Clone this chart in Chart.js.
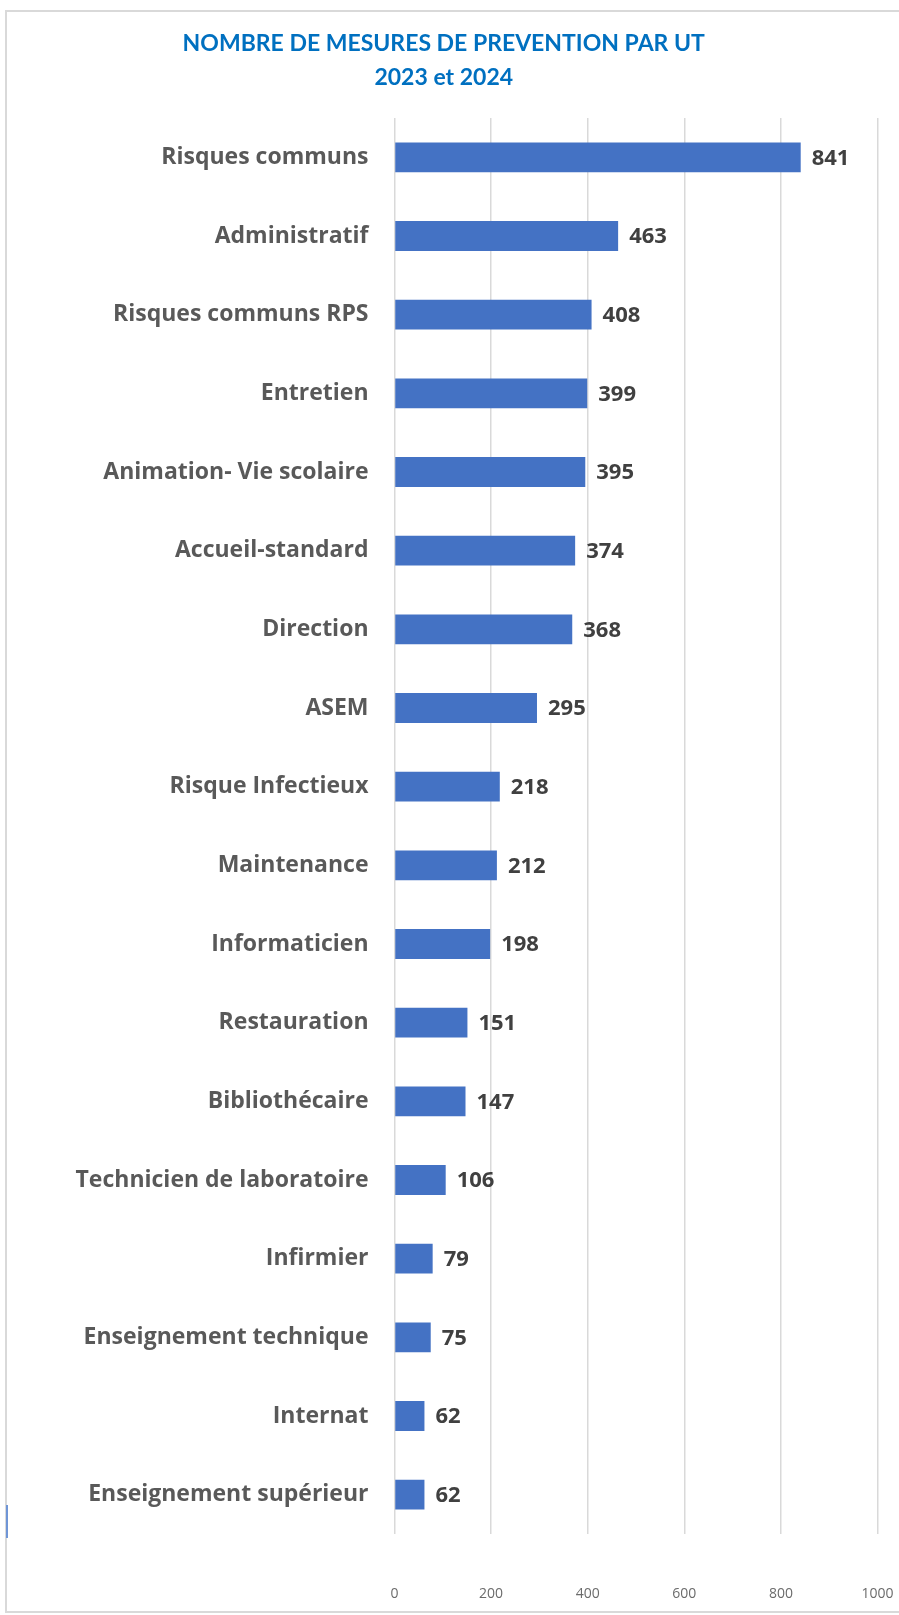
<!DOCTYPE html>
<html lang="fr">
<head>
  <meta charset="UTF-8" />
  <title>Mesures de prévention par UT</title>
  <script src="https://cdn.jsdelivr.net/npm/chart.js"></script>
  <style>
    html, body { margin: 0; background: #fff; overflow: hidden; }
    .cadre { position: absolute; left: 5px; top: 10px; width: 894px; height: 1603px; border: 2px solid #d9d9d9; border-right: none; box-sizing: border-box; }
    .marque { position: absolute; left: 6px; top: 1505px; width: 2px; height: 33px; background: #6f95d6; }
    #chartUT { position: absolute; left: 0; top: 0; }
  </style>
</head>
<body>
  <div class="cadre"></div>
  <div class="marque"></div>
  <canvas id="chartUT" width="899" height="1615"></canvas>

  <script>
    const unites = [
      'Risques communs', 'Administratif', 'Risques communs RPS', 'Entretien',
      'Animation- Vie scolaire', 'Accueil-standard', 'Direction', 'ASEM',
      'Risque Infectieux', 'Maintenance', 'Informaticien', 'Restauration',
      'Bibliothécaire', 'Technicien de laboratoire', 'Infirmier',
      'Enseignement technique', 'Internat', 'Enseignement supérieur'
    ];
    const mesures = [841, 463, 408, 399, 395, 374, 368, 295, 218, 212, 198, 151, 147, 106, 79, 75, 62, 62];
    const titre = ['NOMBRE DE MESURES DE PREVENTION PAR UT', '2023 et 2024'];

    // etiquettes de valeur au bout des barres
    const valeurs = {
      id: 'valeurs',
      afterDatasetsDraw(chart) {
        const ctx = chart.ctx;
        const meta = chart.getDatasetMeta(0);
        ctx.save();
        ctx.font = 'bold 22px "Open Sans"';
        ctx.fillStyle = '#404040';
        ctx.textAlign = 'left';
        ctx.textBaseline = 'middle';
        meta.data.forEach((bar, i) => {
          ctx.fillText(mesures[i], bar.x + 11, bar.y + 1);
        });
        ctx.restore();
      }
    };

    new Chart(document.getElementById('chartUT'), {
      type: 'bar',
      data: {
        labels: unites,
        datasets: [{
          data: mesures,
          backgroundColor: '#4472c4',
          barPercentage: 0.38,
          categoryPercentage: 1
        }]
      },
      options: {
        indexAxis: 'y',
        responsive: false,
        animation: false,
        layout: { padding: { top: 10, right: 21.5, bottom: 15, left: 10 } },
        plugins: {
          legend: { display: false },
          tooltip: { enabled: false },
          title: {
            display: true,
            text: titre,
            color: '#0070c0',
            font: { family: 'Lato', size: 23, weight: 'bold', lineHeight: 1.5 },
            padding: { top: 16, bottom: 23 }
          }
        },
        scales: {
          x: {
            min: 0,
            max: 1000,
            afterFit(scale) {
              scale.height = 66;
              scale.paddingLeft = 0;
              scale.paddingRight = 0;
            },
            ticks: {
              stepSize: 200,
              padding: 52,
              color: '#6b6b6b',
              font: { family: 'Open Sans', size: 14 },
              callback: v => String(v)
            },
            grid: { color: '#d9d9d9', lineWidth: 1.5, drawTicks: false },
            border: { display: false }
          },
          y: {
            afterFit(scale) {
              scale.width = 384.5;
              scale.paddingTop = 0;
              scale.paddingBottom = 0;
            },
            ticks: {
              padding: 26,
              color: '#595959',
              font: { family: 'Open Sans', size: 23, weight: 'bold' }
            },
            grid: { display: false, drawTicks: false },
            border: { display: false }
          }
        }
      },
      plugins: [valeurs]
    });
  </script>
</body>
</html>
